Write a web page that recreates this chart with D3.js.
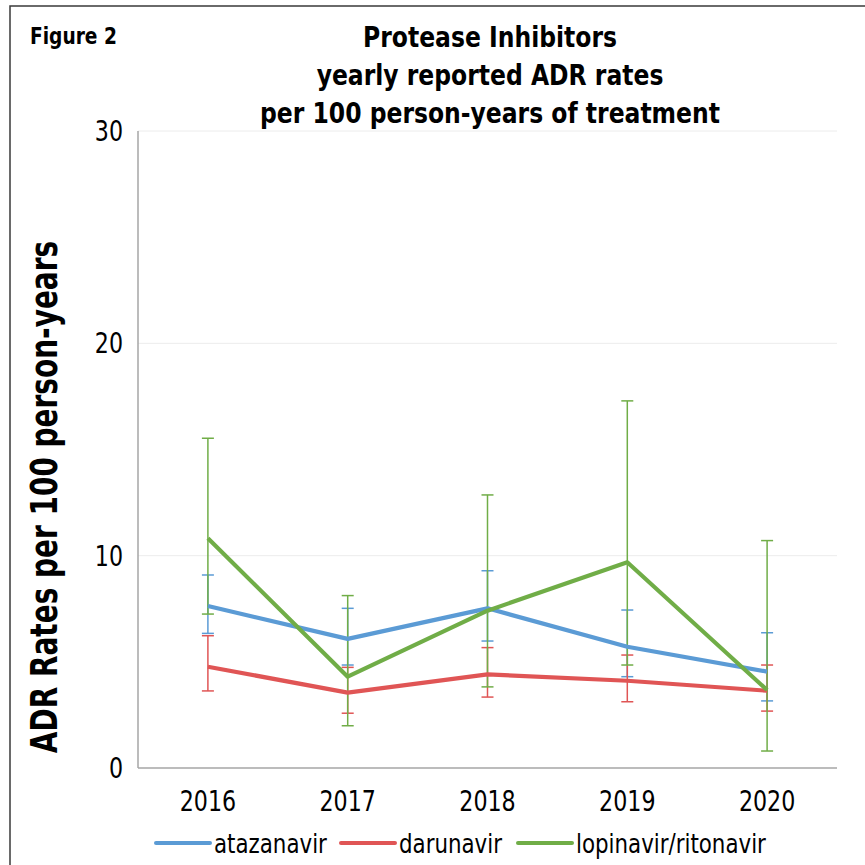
<!DOCTYPE html>
<html><head><meta charset="utf-8">
<script src="https://cdn.jsdelivr.net/npm/d3@7"></script>
<style>
html,body{margin:0;padding:0;background:#fff;}
svg text{font-family:"Liberation Sans Narrow","DejaVu Sans Condensed","Arial Narrow",sans-serif;}
</style></head>
<body>
<svg id="chart" width="865" height="865"></svg>
<script>
const years = ["2016","2017","2018","2019","2020"];
const seriesNames = ["atazanavir","darunavir","lopinavir/ritonavir"];
const colors = ["#5B9BD5","#E05555","#70AD47"];
const atazanavir     = [7.63, 6.08, 7.52, 5.71, 4.54];
const atazanavirLow  = [6.34, 4.85, 5.98, 4.30, 3.16];
const atazanavirHigh = [9.09, 7.52, 9.29, 7.44, 6.37];
const darunavir      = [4.77, 3.55, 4.41, 4.11, 3.64];
const darunavirLow   = [3.63, 2.58, 3.34, 3.12, 2.68];
const darunavirHigh  = [6.23, 4.74, 5.67, 5.32, 4.85];
const lopinavir      = [10.82, 4.30, 7.41, 9.69, 3.67];
const lopinavirLow   = [7.25, 1.99, 3.82, 4.85, 0.80];
const lopinavirHigh  = [15.53, 8.12, 12.86, 17.29, 10.71];
const yTicks = [0,10,20,30];
const titleLines = ["Protease Inhibitors","yearly reported ADR rates","per 100 person-years of treatment"];

const series = [
  {name: seriesNames[0], color: colors[0], v: atazanavir, lo: atazanavirLow, hi: atazanavirHigh},
  {name: seriesNames[1], color: colors[1], v: darunavir, lo: darunavirLow, hi: darunavirHigh},
  {name: seriesNames[2], color: colors[2], v: lopinavir, lo: lopinavirLow, hi: lopinavirHigh}
];

const svg = d3.select("#chart");
const m = {left:138, right:837, top:131, bottom:768};
const x = d3.scaleBand().domain(years).range([m.left, m.right]);
const y = d3.scaleLinear().domain([0,30]).range([m.bottom, m.top]);
const cx = d => x(d) + x.bandwidth()/2;
const SX = 0.88; // horizontal condensing for regular text

// outer frame
svg.append("rect").attr("x",10).attr("y",6).attr("width",900).attr("height",900)
  .attr("fill","none").attr("stroke","#3a3a3a").attr("stroke-width",1.5);

// gridlines
svg.append("g").selectAll("line").data(yTicks.filter(t=>t>0)).join("line")
  .attr("x1",m.left).attr("x2",m.right).attr("y1",d=>y(d)).attr("y2",d=>y(d))
  .attr("stroke","#ececec").attr("stroke-width",1);

// axes lines
svg.append("line").attr("x1",m.left).attr("x2",m.left).attr("y1",m.top).attr("y2",m.bottom)
  .attr("stroke","#a6a6a6").attr("stroke-width",1.5);
svg.append("line").attr("x1",m.left).attr("x2",m.right).attr("y1",m.bottom).attr("y2",m.bottom)
  .attr("stroke","#a6a6a6").attr("stroke-width",1.5);

// y tick labels
svg.append("g").selectAll("text").data(yTicks).join("text")
  .attr("transform",d=>`translate(123,${y(d)}) scale(${SX},1)`).attr("dy","0.36em")
  .attr("text-anchor","end").attr("font-size",28).attr("fill","#000").text(d=>d);

// x tick labels
svg.append("g").selectAll("text").data(years).join("text")
  .attr("transform",d=>`translate(${cx(d)},811) scale(${SX},1)`).attr("text-anchor","middle")
  .attr("font-size",28).attr("fill","#000").text(d=>d);

// error bars
series.forEach(s=>{
  const g = svg.append("g");
  years.forEach((yr,i)=>{
    const xc = cx(yr);
    g.append("line").attr("x1",xc).attr("x2",xc).attr("y1",y(s.lo[i])).attr("y2",y(s.hi[i]))
      .attr("stroke",s.color).attr("stroke-width",1.5);
    [s.lo[i], s.hi[i]].forEach(v=>{
      g.append("line").attr("x1",xc-6).attr("x2",xc+6).attr("y1",y(v)).attr("y2",y(v))
        .attr("stroke",s.color).attr("stroke-width",1.5);
    });
  });
});

// lines
const line = d3.line().x((d,i)=>cx(years[i])).y(d=>y(d));
series.forEach(s=>{
  svg.append("path").datum(s.v).attr("d",line).attr("fill","none")
    .attr("stroke",s.color).attr("stroke-width",4.2).attr("stroke-linejoin","round");
});

// titles
svg.append("text").attr("transform","translate(30,44) scale(0.9,1)").attr("font-size",23).attr("font-weight","bold")
  .text("Figure 2");
svg.append("g").selectAll("text").data(titleLines).join("text")
  .attr("transform",(d,i)=>`translate(490,${47+i*38}) scale(0.9,1)`).attr("text-anchor","middle")
  .attr("font-size",29).attr("font-weight","bold").text(d=>d);

// y axis title
svg.append("text").attr("transform","translate(57,497) rotate(-90) scale(0.84,1)")
  .attr("text-anchor","middle").attr("font-size",37).attr("font-weight","bold")
  .text("ADR Rates per 100 person-years");

// legend
const legX = [156, 341, 518];
const lg = svg.append("g");
series.forEach((s,i)=>{
  lg.append("line").attr("x1",legX[i]).attr("x2",legX[i]+54).attr("y1",843).attr("y2",843)
    .attr("stroke",s.color).attr("stroke-width",4).attr("stroke-linecap","round");
  lg.append("text").attr("transform",`translate(${legX[i]+58},853) scale(${SX},1)`)
    .attr("font-size",27).text(s.name);
});
</script>
</body></html>
